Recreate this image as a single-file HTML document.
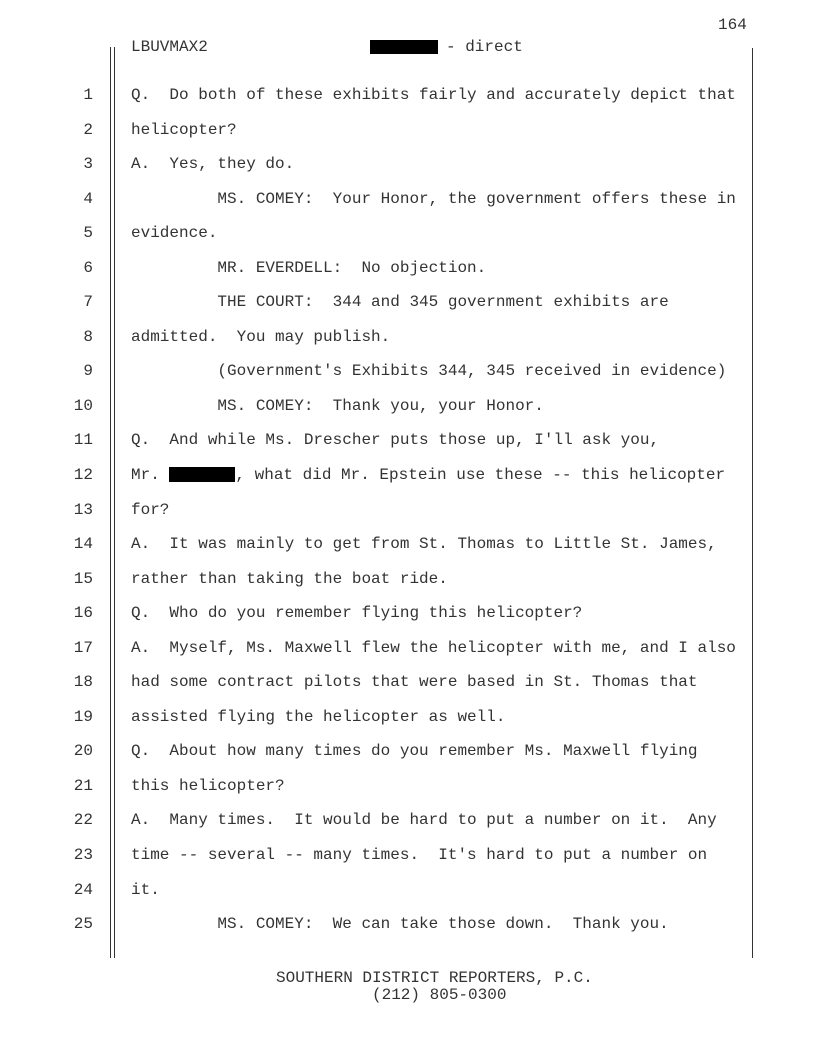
<!DOCTYPE html>
<html><head><meta charset="utf-8"><style>
body{margin:0;background:#fff;}
#p{position:relative;width:816px;height:1056px;overflow:hidden;font-family:"Liberation Mono",monospace;font-size:16px;color:#333;}
.t{position:absolute;left:131px;white-space:pre;line-height:18px;}
.n{position:absolute;left:60px;width:33px;text-align:right;line-height:18px;}
.v{position:absolute;background:#333;width:1px;}
.r{display:inline-block;background:#000;vertical-align:middle;}
</style></head><body><div id="p">
<div class="v" style="left:110px;top:47px;height:911px"></div>
<div class="v" style="left:114px;top:47px;height:911px"></div>
<div class="v" style="left:752px;top:48px;height:910px"></div>
<div class="t" style="left:718px;top:16px">164</div>
<div class="t" style="top:38px">LBUVMAX2</div>
<div style="position:absolute;left:370px;top:40px;width:68px;height:14px;background:#000"></div>
<div class="t" style="left:446px;top:38px">- direct</div>
<div class="n" style="top:86px">1</div><div class="t" style="top:86px">Q.  Do both of these exhibits fairly and accurately depict that</div>
<div class="n" style="top:120.5px">2</div><div class="t" style="top:120.5px">helicopter?</div>
<div class="n" style="top:155px">3</div><div class="t" style="top:155px">A.  Yes, they do.</div>
<div class="n" style="top:189.6px">4</div><div class="t" style="top:189.6px">         MS. COMEY:  Your Honor, the government offers these in</div>
<div class="n" style="top:224.2px">5</div><div class="t" style="top:224.2px">evidence.</div>
<div class="n" style="top:258.7px">6</div><div class="t" style="top:258.7px">         MR. EVERDELL:  No objection.</div>
<div class="n" style="top:293.2px">7</div><div class="t" style="top:293.2px">         THE COURT:  344 and 345 government exhibits are</div>
<div class="n" style="top:327.8px">8</div><div class="t" style="top:327.8px">admitted.  You may publish.</div>
<div class="n" style="top:362.3px">9</div><div class="t" style="top:362.3px">         (Government's Exhibits 344, 345 received in evidence)</div>
<div class="n" style="top:396.9px">10</div><div class="t" style="top:396.9px">         MS. COMEY:  Thank you, your Honor.</div>
<div class="n" style="top:431.4px">11</div><div class="t" style="top:431.4px">Q.  And while Ms. Drescher puts those up, I'll ask you,</div>
<div class="n" style="top:466px">12</div><div class="t" style="top:466px">Mr. <span class="r" style="width:66px;height:15px"></span>, what did Mr. Epstein use these -- this helicopter</div>
<div class="n" style="top:500.5px">13</div><div class="t" style="top:500.5px">for?</div>
<div class="n" style="top:535px">14</div><div class="t" style="top:535px">A.  It was mainly to get from St. Thomas to Little St. James,</div>
<div class="n" style="top:569.6px">15</div><div class="t" style="top:569.6px">rather than taking the boat ride.</div>
<div class="n" style="top:604.1px">16</div><div class="t" style="top:604.1px">Q.  Who do you remember flying this helicopter?</div>
<div class="n" style="top:638.7px">17</div><div class="t" style="top:638.7px">A.  Myself, Ms. Maxwell flew the helicopter with me, and I also</div>
<div class="n" style="top:673.2px">18</div><div class="t" style="top:673.2px">had some contract pilots that were based in St. Thomas that</div>
<div class="n" style="top:707.8px">19</div><div class="t" style="top:707.8px">assisted flying the helicopter as well.</div>
<div class="n" style="top:742.3px">20</div><div class="t" style="top:742.3px">Q.  About how many times do you remember Ms. Maxwell flying</div>
<div class="n" style="top:776.8px">21</div><div class="t" style="top:776.8px">this helicopter?</div>
<div class="n" style="top:811.4px">22</div><div class="t" style="top:811.4px">A.  Many times.  It would be hard to put a number on it.  Any</div>
<div class="n" style="top:845.9px">23</div><div class="t" style="top:845.9px">time -- several -- many times.  It's hard to put a number on</div>
<div class="n" style="top:880.5px">24</div><div class="t" style="top:880.5px">it.</div>
<div class="n" style="top:915px">25</div><div class="t" style="top:915px">         MS. COMEY:  We can take those down.  Thank you.</div>
<div class="t" style="left:276px;top:969px">SOUTHERN DISTRICT REPORTERS, P.C.</div>
<div class="t" style="left:372px;top:986px">(212) 805-0300</div>
</div></body></html>
